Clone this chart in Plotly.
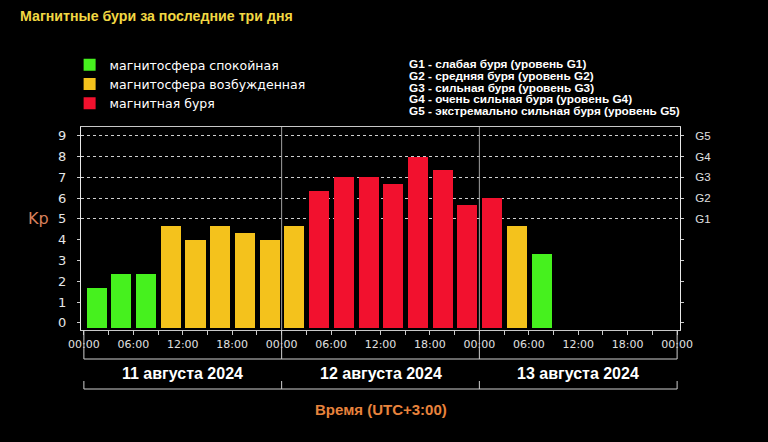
import plotly.graph_objects as go

# ---- data ----
hours = [0, 3, 6, 9, 12, 15, 18, 21, 24, 27, 30, 33, 36, 39, 42, 45, 48, 51, 54]
kp = [1.67, 2.33, 2.33, 4.67, 4.0, 4.67, 4.33, 4.0,
      4.67, 6.33, 7.0, 7.0, 6.67, 8.0, 7.33, 5.67,
      6.0, 4.67, 3.33]
status_names = ["магнитосфера спокойная", "магнитосфера возбужденная", "магнитная буря"]
status_colors = ["#46F11E", "#F4C21C", "#F2112E"]
status_limits = [4.0, 5.0]          # Kp < 4 quiet, 4..5 active, >=5 storm
tick_hours = list(range(0, 73, 3))
tick_labels = ["00:00" if h % 24 == 0 else ("%02d:00" % (h % 24) if h % 6 == 0 else "") for h in tick_hours]
day_starts = [0, 24, 48, 72]
day_labels = ["11 августа 2024", "12 августа 2024", "13 августа 2024"]
kp_ticks = list(range(0, 10))
g_levels = [5, 6, 7, 8, 9]
g_labels = ["G1", "G2", "G3", "G4", "G5"]
g_texts = ["G1 - слабая буря (уровень G1)",
           "G2 - средняя буря (уровень G2)",
           "G3 - сильная буря (уровень G3)",
           "G4 - очень сильная буря (уровень G4)",
           "G5 - экстремально сильная буря (уровень G5)"]

BASE = -0.25
BAR_OFFSET = 0.33
BAR_WIDTH = 2.43


def level(v):
    if v < status_limits[0]:
        return 0
    if v < status_limits[1]:
        return 1
    return 2


fig = go.Figure()
for i, (name, col) in enumerate(zip(status_names, status_colors)):
    xs = [h for h, v in zip(hours, kp) if level(v) == i]
    vs = [v for v in kp if level(v) == i]
    fig.add_trace(go.Bar(
        x=xs, y=[v - BASE for v in vs], base=BASE, customdata=vs,
        offset=BAR_OFFSET, width=BAR_WIDTH,
        marker=dict(color=col, line=dict(width=0)),
        name=name, hovertemplate="Kp %{customdata}<extra></extra>",
    ))
fig.add_trace(go.Scatter(x=[None], y=[None], yaxis="y2", showlegend=False, hoverinfo="skip"))

yrange = [-0.34, 9.42]
PH = 203.0
fig.update_layout(
    width=768, height=442,
    margin=dict(l=81, r=88, t=127, b=112),
    paper_bgcolor="black", plot_bgcolor="black",
    bargap=0,
    title=dict(text="<b>Магнитные бури за последние три дня</b>", x=20 / 768, xref="container",
               xanchor="left", y=1 - 16 / 442, yanchor="middle",
               font=dict(family="Liberation Sans", size=14.2, color="#F2D843")),
    legend=dict(x=-0.019, xanchor="left", y=(330 - 50) / PH, yanchor="top",
                font=dict(family="DejaVu Sans", size=12.5, color="white"),
                bgcolor="rgba(0,0,0,0)", tracegroupgap=0, itemclick=False),
    xaxis=dict(range=[-0.35, 72.35], tickmode="array", tickvals=tick_hours, ticktext=tick_labels,
               ticks="outside", ticklen=4, tickcolor="#cccccc", showgrid=False, zeroline=False,
               showline=True, linecolor="#c8c8c8", linewidth=1, mirror=True,
               tickfont=dict(family="DejaVu Sans", size=11, color="#e0e0e0")),
    yaxis=dict(range=yrange, tickmode="array", tickvals=kp_ticks, ticks="outside", ticklen=3,
               tickcolor="#cccccc", showgrid=False, zeroline=False, showline=True,
               linecolor="#e8e8e8", linewidth=1, ticklabelstandoff=8,
               tickfont=dict(family="DejaVu Sans", size=13, color="#e6e6e6")),
    yaxis2=dict(range=yrange, overlaying="y", side="right", anchor="x", tickmode="array",
                tickvals=g_levels, ticktext=g_labels, ticks="outside", ticklen=3, tickcolor="#cccccc",
                showgrid=True, gridcolor="#d0d0d0", griddash="dot", gridwidth=1,
                zeroline=False, showline=True, linecolor="#e8e8e8", linewidth=1,
                ticklabelstandoff=9,
                minor=dict(tickmode="array", tickvals=kp_ticks, ticks="outside", ticklen=3,
                           tickcolor="#cccccc", showgrid=False),
                tickfont=dict(family="Liberation Sans", size=11.5, color="#e0e0e0")),
    showlegend=True,
)

# day separators inside the plot
for d in day_starts[1:-1]:
    fig.add_shape(type="line", xref="x", yref="paper", x0=d, x1=d, y0=0, y1=1,
                  line=dict(color="#a0a0a0", width=1))
# brackets below the axis
y_br1 = -29 / PH
y_br2a = -51 / PH
y_br2b = -59 / PH
for d in day_starts:
    fig.add_shape(type="line", xref="x", yref="paper", x0=d, x1=d, y0=0, y1=y_br1,
                  line=dict(color="#cfcfcf", width=1))
    fig.add_shape(type="line", xref="x", yref="paper", x0=d, x1=d, y0=y_br2a, y1=y_br2b,
                  line=dict(color="#cfcfcf", width=1))
for yy in (y_br1, y_br2b):
    fig.add_shape(type="line", xref="x", yref="paper", x0=day_starts[0], x1=day_starts[-1],
                  y0=yy, y1=yy, line=dict(color="#cfcfcf", width=1))

for d0, d1, lab in zip(day_starts[:-1], day_starts[1:], day_labels):
    fig.add_annotation(x=(d0 + d1) / 2, xref="x", y=-43 / PH, yref="paper", text="<b>%s</b>" % lab,
                       showarrow=False, xanchor="center", yanchor="middle",
                       font=dict(family="Liberation Sans", size=16, color="white"))

fig.add_annotation(x=0.5, xref="paper", y=-79 / PH, yref="paper", text="<b>Время (UTC+3:00)</b>",
                   showarrow=False, xanchor="center", yanchor="middle",
                   font=dict(family="Liberation Sans", size=15, color="#E8833C"))

fig.add_annotation(x=-43 / 599, xref="paper", y=5, yref="y", text="Kp", showarrow=False,
                   xanchor="center", yanchor="middle",
                   font=dict(family="DejaVu Sans", size=16, color="#D9805C"))

# G-level explanation lines (tightly spaced as in the reference)
for i, t in enumerate(g_texts):
    fig.add_annotation(x=(407 - 81) / 599, xref="paper", y=(330 - (64 + 11.8 * i)) / PH, yref="paper",
                       text="<b>%s</b>" % t, showarrow=False, xanchor="left", yanchor="middle",
                       font=dict(family="Liberation Sans", size=11.8, color="white"))

fig.write_html("out.html")
